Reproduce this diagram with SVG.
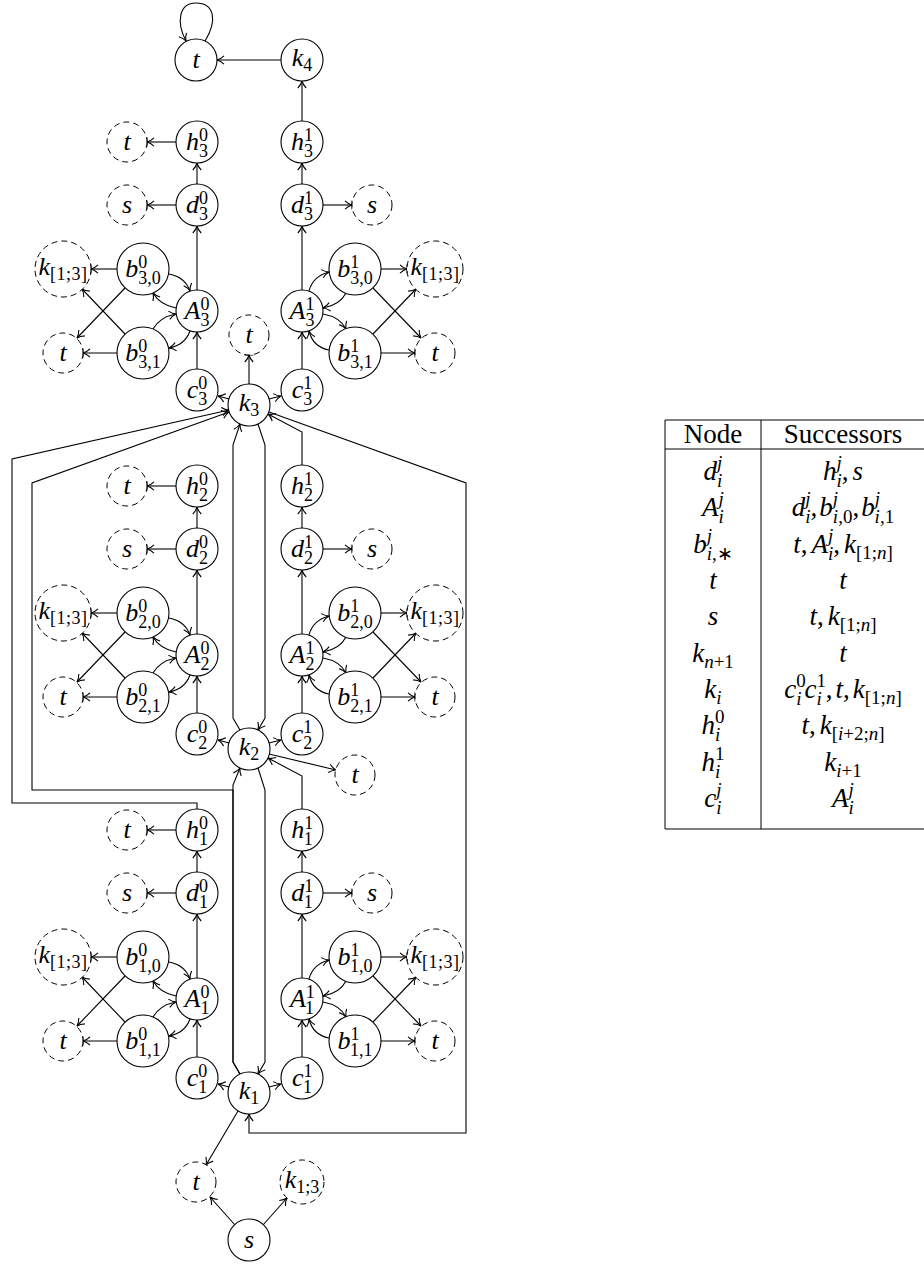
<svg xmlns="http://www.w3.org/2000/svg" width="924" height="1264" viewBox="0 0 924 1264">
<style>
.e{fill:none;stroke:#000;stroke-width:1.1;marker-end:url(#ar)}
.eb{fill:none;stroke:#000;stroke-width:1.1;marker-end:url(#arb)}
.n{fill:#fff;stroke:#000;stroke-width:1.1}
.dn{fill:#fff;stroke:#000;stroke-width:1;stroke-dasharray:6 4}
.lb{font-family:"Liberation Serif","Times New Roman",serif;font-size:26px;font-style:italic;text-anchor:middle;fill:#000}
.sc{font-size:18px;font-style:normal}
.kb{font-size:18px;font-style:normal;letter-spacing:0.5px}
.tl{stroke:#000;stroke-width:1;fill:none}
.tb{font-family:"Liberation Serif","Times New Roman",serif;font-size:27px;text-anchor:middle;fill:#000}
.ti{font-style:italic}
.u{font-style:normal}
.ts{font-size:19px}
</style>
<defs>
<marker id="ar" markerUnits="userSpaceOnUse" viewBox="-10 -6 12 12" markerWidth="12" markerHeight="12" refX="0" refY="0" orient="auto" overflow="visible"><path d="M-7,-4.2C-4.5,-1.8 -2,-0.5 0,0C-2,0.5 -4.5,1.8 -7,4.2" fill="none" stroke="#000" stroke-width="1.1"/></marker>
<marker id="arb" markerUnits="userSpaceOnUse" viewBox="-10 -6 12 12" markerWidth="12" markerHeight="12" refX="0" refY="0" orient="auto" overflow="visible"><path d="M-7,-4.2C-4.5,-1.8 -2,-0.5 0,0C-2,0.5 -4.5,1.8 -7,4.2M0,-4.5V4.5" fill="none" stroke="#000" stroke-width="1.1"/></marker>
</defs>

<g id="connectors">
<g id="edges-level3">
<path class="e" d="M197,369V332"/><path class="e" d="M197,290V226"/><path class="e" d="M197,184V163"/>
<path class="eb" d="M176,205H147"/><path class="eb" d="M176,142H147"/>
<path class="eb" d="M117,269H91"/><path class="eb" d="M117,353H83"/>
<path class="e" d="M125,288L77,338"/><path class="e" d="M125,334L82,289"/>
<path class="e" d="M169,274Q185,277 190,291"/><path class="e" d="M176,308Q160,305 153,293"/>
<path class="e" d="M153,329Q160,317 176,314"/><path class="e" d="M190,331Q185,345 169,348"/>
<path class="e" d="M302,369V332"/><path class="e" d="M302,290V226"/><path class="e" d="M302,184V163"/>
<path class="eb" d="M323,205H352"/>
<path class="eb" d="M381,269H407"/><path class="eb" d="M381,353H415"/>
<path class="e" d="M373,288L421,338"/><path class="e" d="M373,334L416,289"/>
<path class="e" d="M309,291Q313,276 329,272"/><path class="e" d="M346,293Q340,305 323,308"/>
<path class="e" d="M323,314Q340,317 346,329"/><path class="e" d="M329,350Q313,347 309,331"/>
<path class="e" d="M229,399L218,396"/><path class="e" d="M269,399L281,396"/>
</g>
<g id="edges-level2" transform="translate(0,344)">
<path class="e" d="M197,369V332"/><path class="e" d="M197,290V226"/><path class="e" d="M197,184V163"/>
<path class="eb" d="M176,205H147"/><path class="eb" d="M176,142H147"/>
<path class="eb" d="M117,269H91"/><path class="eb" d="M117,353H83"/>
<path class="e" d="M125,288L77,338"/><path class="e" d="M125,334L82,289"/>
<path class="e" d="M169,274Q185,277 190,291"/><path class="e" d="M176,308Q160,305 153,293"/>
<path class="e" d="M153,329Q160,317 176,314"/><path class="e" d="M190,331Q185,345 169,348"/>
<path class="e" d="M302,369V332"/><path class="e" d="M302,290V226"/><path class="e" d="M302,184V163"/>
<path class="eb" d="M323,205H352"/>
<path class="eb" d="M381,269H407"/><path class="eb" d="M381,353H415"/>
<path class="e" d="M373,288L421,338"/><path class="e" d="M373,334L416,289"/>
<path class="e" d="M309,291Q313,276 329,272"/><path class="e" d="M346,293Q340,305 323,308"/>
<path class="e" d="M323,314Q340,317 346,329"/><path class="e" d="M329,350Q313,347 309,331"/>
<path class="e" d="M229,399L218,396"/><path class="e" d="M269,399L281,396"/>
</g>
<g id="edges-level1" transform="translate(0,688)">
<path class="e" d="M197,369V332"/><path class="e" d="M197,290V226"/><path class="e" d="M197,184V163"/>
<path class="eb" d="M176,205H147"/><path class="eb" d="M176,142H147"/>
<path class="eb" d="M117,269H91"/><path class="eb" d="M117,353H83"/>
<path class="e" d="M125,288L77,338"/><path class="e" d="M125,334L82,289"/>
<path class="e" d="M169,274Q185,277 190,291"/><path class="e" d="M176,308Q160,305 153,293"/>
<path class="e" d="M153,329Q160,317 176,314"/><path class="e" d="M190,331Q185,345 169,348"/>
<path class="e" d="M302,369V332"/><path class="e" d="M302,290V226"/><path class="e" d="M302,184V163"/>
<path class="eb" d="M323,205H352"/>
<path class="eb" d="M381,269H407"/><path class="eb" d="M381,353H415"/>
<path class="e" d="M373,288L421,338"/><path class="e" d="M373,334L416,289"/>
<path class="e" d="M309,291Q313,276 329,272"/><path class="e" d="M346,293Q340,305 323,308"/>
<path class="e" d="M323,314Q340,317 346,329"/><path class="e" d="M329,350Q313,347 309,331"/>
<path class="e" d="M229,399L218,396"/><path class="e" d="M269,399L281,396"/>
</g>
<g id="edges-global">
<path class="e" d="M205,41C218,20 214,3 196,3C179,3 176,22 186,41"/>
<path class="e" d="M281,60H217"/>
<path class="e" d="M302,121V81"/>
<path class="eb" d="M249,384V355"/>
<path class="e" d="M302,465V432L268,414"/>
<path class="e" d="M269,754L336,770"/>
<path class="e" d="M302,809V776L268,758"/>
<path class="e" d="M197,809V803H12V459L229,410"/>
<path class="e" d="M238,1111L206,1165"/>
<path class="e" d="M240,730L233,718V445L240,424"/>
<path class="e" d="M258,424L265,445V718L258,730"/>
<path class="e" d="M240,1074L233,1062V785L240,768"/>
<path class="e" d="M240,1074L233,1062V790H32V483L229,412"/>
<path class="e" d="M258,768L265,790V1062L258,1074"/>
<path class="e" d="M269,412L466,483V1133H249V1114"/>
<path class="e" d="M235,1225L210,1197"/>
<path class="e" d="M263,1225L287,1198"/>
</g>
</g>

<g id="t-top"><circle class="n" cx="196" cy="60" r="21"/><text class="lb" x="196" y="68">t</text></g>
<g id="k4"><circle class="n" cx="302" cy="60" r="21"/><text class="lb" x="302" y="66">k<tspan class="sc" dy="5">4</tspan></text></g>

<g id="level3">
<g id="h30"><circle class="n" cx="197" cy="142" r="21"/><text class="lb" x="197" y="150">h<tspan class="sc" dy="-9">0</tspan><tspan class="sc" dx="-9" dy="16">3</tspan></text></g>
<g id="h31"><circle class="n" cx="302" cy="142" r="21"/><text class="lb" x="302" y="150">h<tspan class="sc" dy="-9">1</tspan><tspan class="sc" dx="-9" dy="16">3</tspan></text></g>
<g id="d30"><circle class="n" cx="197" cy="205" r="21"/><text class="lb" x="197" y="213">d<tspan class="sc" dy="-9">0</tspan><tspan class="sc" dx="-9" dy="16">3</tspan></text></g>
<g id="d31"><circle class="n" cx="302" cy="205" r="21"/><text class="lb" x="302" y="213">d<tspan class="sc" dy="-9">1</tspan><tspan class="sc" dx="-9" dy="16">3</tspan></text></g>
<g id="b300"><circle class="n" cx="143" cy="269" r="26"/><text class="lb" x="143" y="277">b<tspan class="sc" dy="-9">0</tspan><tspan class="sc" dx="-9" dy="16">3,0</tspan></text></g>
<g id="b301"><circle class="n" cx="143" cy="353" r="26"/><text class="lb" x="143" y="361">b<tspan class="sc" dy="-9">0</tspan><tspan class="sc" dx="-9" dy="16">3,1</tspan></text></g>
<g id="b310"><circle class="n" cx="355" cy="269" r="26"/><text class="lb" x="355" y="277">b<tspan class="sc" dy="-9">1</tspan><tspan class="sc" dx="-9" dy="16">3,0</tspan></text></g>
<g id="b311"><circle class="n" cx="355" cy="353" r="26"/><text class="lb" x="355" y="361">b<tspan class="sc" dy="-9">1</tspan><tspan class="sc" dx="-9" dy="16">3,1</tspan></text></g>
<g id="A30"><circle class="n" cx="197" cy="311" r="21"/><text class="lb" x="197" y="319">A<tspan class="sc" dy="-9">0</tspan><tspan class="sc" dx="-9" dy="16">3</tspan></text></g>
<g id="A31"><circle class="n" cx="302" cy="311" r="21"/><text class="lb" x="302" y="319">A<tspan class="sc" dy="-9">1</tspan><tspan class="sc" dx="-9" dy="16">3</tspan></text></g>
<g id="c30"><circle class="n" cx="197" cy="390" r="21"/><text class="lb" x="197" y="398">c<tspan class="sc" dy="-9">0</tspan><tspan class="sc" dx="-9" dy="16">3</tspan></text></g>
<g id="c31"><circle class="n" cx="302" cy="390" r="21"/><text class="lb" x="302" y="398">c<tspan class="sc" dy="-9">1</tspan><tspan class="sc" dx="-9" dy="16">3</tspan></text></g>
<g id="k3"><circle class="n" cx="249" cy="405" r="21"/><text class="lb" x="249" y="411">k<tspan class="sc" dy="5">3</tspan></text></g>
<g id="t-h30"><circle class="dn" cx="127" cy="142" r="20"/><text class="lb" x="127" y="150">t</text></g>
<g id="s-d30"><circle class="dn" cx="127" cy="205" r="20"/><text class="lb" x="127" y="213">s</text></g>
<g id="s-d31"><circle class="dn" cx="372" cy="205" r="20"/><text class="lb" x="372" y="213">s</text></g>
<g id="k-b30"><circle class="dn" cx="63" cy="269" r="28"/><text class="lb" x="63" y="275">k<tspan class="kb" dy="5">[1;3]</tspan></text></g>
<g id="t-b30"><circle class="dn" cx="63" cy="353" r="20"/><text class="lb" x="63" y="361">t</text></g>
<g id="k-b31"><circle class="dn" cx="435" cy="269" r="28"/><text class="lb" x="435" y="275">k<tspan class="kb" dy="5">[1;3]</tspan></text></g>
<g id="t-b31"><circle class="dn" cx="435" cy="353" r="20"/><text class="lb" x="435" y="361">t</text></g>
</g>

<g id="level2" transform="translate(0,344)">
<g id="h20"><circle class="n" cx="197" cy="142" r="21"/><text class="lb" x="197" y="150">h<tspan class="sc" dy="-9">0</tspan><tspan class="sc" dx="-9" dy="16">2</tspan></text></g>
<g id="h21"><circle class="n" cx="302" cy="142" r="21"/><text class="lb" x="302" y="150">h<tspan class="sc" dy="-9">1</tspan><tspan class="sc" dx="-9" dy="16">2</tspan></text></g>
<g id="d20"><circle class="n" cx="197" cy="205" r="21"/><text class="lb" x="197" y="213">d<tspan class="sc" dy="-9">0</tspan><tspan class="sc" dx="-9" dy="16">2</tspan></text></g>
<g id="d21"><circle class="n" cx="302" cy="205" r="21"/><text class="lb" x="302" y="213">d<tspan class="sc" dy="-9">1</tspan><tspan class="sc" dx="-9" dy="16">2</tspan></text></g>
<g id="b200"><circle class="n" cx="143" cy="269" r="26"/><text class="lb" x="143" y="277">b<tspan class="sc" dy="-9">0</tspan><tspan class="sc" dx="-9" dy="16">2,0</tspan></text></g>
<g id="b201"><circle class="n" cx="143" cy="353" r="26"/><text class="lb" x="143" y="361">b<tspan class="sc" dy="-9">0</tspan><tspan class="sc" dx="-9" dy="16">2,1</tspan></text></g>
<g id="b210"><circle class="n" cx="355" cy="269" r="26"/><text class="lb" x="355" y="277">b<tspan class="sc" dy="-9">1</tspan><tspan class="sc" dx="-9" dy="16">2,0</tspan></text></g>
<g id="b211"><circle class="n" cx="355" cy="353" r="26"/><text class="lb" x="355" y="361">b<tspan class="sc" dy="-9">1</tspan><tspan class="sc" dx="-9" dy="16">2,1</tspan></text></g>
<g id="A20"><circle class="n" cx="197" cy="311" r="21"/><text class="lb" x="197" y="319">A<tspan class="sc" dy="-9">0</tspan><tspan class="sc" dx="-9" dy="16">2</tspan></text></g>
<g id="A21"><circle class="n" cx="302" cy="311" r="21"/><text class="lb" x="302" y="319">A<tspan class="sc" dy="-9">1</tspan><tspan class="sc" dx="-9" dy="16">2</tspan></text></g>
<g id="c20"><circle class="n" cx="197" cy="390" r="21"/><text class="lb" x="197" y="398">c<tspan class="sc" dy="-9">0</tspan><tspan class="sc" dx="-9" dy="16">2</tspan></text></g>
<g id="c21"><circle class="n" cx="302" cy="390" r="21"/><text class="lb" x="302" y="398">c<tspan class="sc" dy="-9">1</tspan><tspan class="sc" dx="-9" dy="16">2</tspan></text></g>
<g id="k2"><circle class="n" cx="249" cy="405" r="21"/><text class="lb" x="249" y="411">k<tspan class="sc" dy="5">2</tspan></text></g>
<g id="t-h20"><circle class="dn" cx="127" cy="142" r="20"/><text class="lb" x="127" y="150">t</text></g>
<g id="s-d20"><circle class="dn" cx="127" cy="205" r="20"/><text class="lb" x="127" y="213">s</text></g>
<g id="s-d21"><circle class="dn" cx="372" cy="205" r="20"/><text class="lb" x="372" y="213">s</text></g>
<g id="k-b20"><circle class="dn" cx="63" cy="269" r="28"/><text class="lb" x="63" y="275">k<tspan class="kb" dy="5">[1;3]</tspan></text></g>
<g id="t-b20"><circle class="dn" cx="63" cy="353" r="20"/><text class="lb" x="63" y="361">t</text></g>
<g id="k-b21"><circle class="dn" cx="435" cy="269" r="28"/><text class="lb" x="435" y="275">k<tspan class="kb" dy="5">[1;3]</tspan></text></g>
<g id="t-b21"><circle class="dn" cx="435" cy="353" r="20"/><text class="lb" x="435" y="361">t</text></g>
</g>

<g id="level1" transform="translate(0,688)">
<g id="h10"><circle class="n" cx="197" cy="142" r="21"/><text class="lb" x="197" y="150">h<tspan class="sc" dy="-9">0</tspan><tspan class="sc" dx="-9" dy="16">1</tspan></text></g>
<g id="h11"><circle class="n" cx="302" cy="142" r="21"/><text class="lb" x="302" y="150">h<tspan class="sc" dy="-9">1</tspan><tspan class="sc" dx="-9" dy="16">1</tspan></text></g>
<g id="d10"><circle class="n" cx="197" cy="205" r="21"/><text class="lb" x="197" y="213">d<tspan class="sc" dy="-9">0</tspan><tspan class="sc" dx="-9" dy="16">1</tspan></text></g>
<g id="d11"><circle class="n" cx="302" cy="205" r="21"/><text class="lb" x="302" y="213">d<tspan class="sc" dy="-9">1</tspan><tspan class="sc" dx="-9" dy="16">1</tspan></text></g>
<g id="b100"><circle class="n" cx="143" cy="269" r="26"/><text class="lb" x="143" y="277">b<tspan class="sc" dy="-9">0</tspan><tspan class="sc" dx="-9" dy="16">1,0</tspan></text></g>
<g id="b101"><circle class="n" cx="143" cy="353" r="26"/><text class="lb" x="143" y="361">b<tspan class="sc" dy="-9">0</tspan><tspan class="sc" dx="-9" dy="16">1,1</tspan></text></g>
<g id="b110"><circle class="n" cx="355" cy="269" r="26"/><text class="lb" x="355" y="277">b<tspan class="sc" dy="-9">1</tspan><tspan class="sc" dx="-9" dy="16">1,0</tspan></text></g>
<g id="b111"><circle class="n" cx="355" cy="353" r="26"/><text class="lb" x="355" y="361">b<tspan class="sc" dy="-9">1</tspan><tspan class="sc" dx="-9" dy="16">1,1</tspan></text></g>
<g id="A10"><circle class="n" cx="197" cy="311" r="21"/><text class="lb" x="197" y="319">A<tspan class="sc" dy="-9">0</tspan><tspan class="sc" dx="-9" dy="16">1</tspan></text></g>
<g id="A11"><circle class="n" cx="302" cy="311" r="21"/><text class="lb" x="302" y="319">A<tspan class="sc" dy="-9">1</tspan><tspan class="sc" dx="-9" dy="16">1</tspan></text></g>
<g id="c10"><circle class="n" cx="197" cy="390" r="21"/><text class="lb" x="197" y="398">c<tspan class="sc" dy="-9">0</tspan><tspan class="sc" dx="-9" dy="16">1</tspan></text></g>
<g id="c11"><circle class="n" cx="302" cy="390" r="21"/><text class="lb" x="302" y="398">c<tspan class="sc" dy="-9">1</tspan><tspan class="sc" dx="-9" dy="16">1</tspan></text></g>
<g id="k1"><circle class="n" cx="249" cy="405" r="21"/><text class="lb" x="249" y="411">k<tspan class="sc" dy="5">1</tspan></text></g>
<g id="t-h10"><circle class="dn" cx="127" cy="142" r="20"/><text class="lb" x="127" y="150">t</text></g>
<g id="s-d10"><circle class="dn" cx="127" cy="205" r="20"/><text class="lb" x="127" y="213">s</text></g>
<g id="s-d11"><circle class="dn" cx="372" cy="205" r="20"/><text class="lb" x="372" y="213">s</text></g>
<g id="k-b10"><circle class="dn" cx="63" cy="269" r="28"/><text class="lb" x="63" y="275">k<tspan class="kb" dy="5">[1;3]</tspan></text></g>
<g id="t-b10"><circle class="dn" cx="63" cy="353" r="20"/><text class="lb" x="63" y="361">t</text></g>
<g id="k-b11"><circle class="dn" cx="435" cy="269" r="28"/><text class="lb" x="435" y="275">k<tspan class="kb" dy="5">[1;3]</tspan></text></g>
<g id="t-b11"><circle class="dn" cx="435" cy="353" r="20"/><text class="lb" x="435" y="361">t</text></g>
</g>

<g id="t-k3"><circle class="dn" cx="249" cy="335" r="20"/><text class="lb" x="249" y="343">t</text></g>
<g id="t-k2"><circle class="dn" cx="355" cy="775" r="20"/><text class="lb" x="355" y="783">t</text></g>
<g id="t-k1"><circle class="dn" cx="196" cy="1182" r="20"/><text class="lb" x="196" y="1190">t</text></g>
<g id="k13"><circle class="dn" cx="302" cy="1182" r="22"/><text class="lb" x="302" y="1188">k<tspan class="sc" dy="5">1;3</tspan></text></g>
<g id="s"><circle class="n" cx="249" cy="1240" r="21"/><text class="lb" x="249" y="1248">s</text></g>

<g id="table">
<path class="tl" d="M665,420H924M665,449H924M665,829H924M665,420V829M761,420V829"/>
<text class="tb" x="713" y="443">Node</text>
<text class="tb" x="843" y="443">Successors</text>
<text class="tb ti" x="713" y="480">d<tspan class="ts" dy="-11">j</tspan><tspan class="ts" dx="-5.3" dy="18">i</tspan></text>
<text class="tb ti" x="843" y="480">h<tspan class="ts" dy="-11">j</tspan><tspan class="ts" dx="-5.3" dy="18">i</tspan><tspan class="u" dy="-7">,</tspan><tspan dx="4">s</tspan></text>
<text class="tb ti" x="713" y="516">A<tspan class="ts" dy="-11">j</tspan><tspan class="ts" dx="-5.3" dy="18">i</tspan></text>
<text class="tb ti" x="843" y="516">d<tspan class="ts" dy="-11">j</tspan><tspan class="ts" dx="-5.3" dy="18">i</tspan><tspan class="u" dy="-7">,</tspan><tspan dx="2">b</tspan><tspan class="ts" dy="-11">j</tspan><tspan class="ts" dx="-5.3" dy="18">i<tspan class="u">,0</tspan></tspan><tspan class="u" dy="-7">,</tspan><tspan dx="2">b</tspan><tspan class="ts" dy="-11">j</tspan><tspan class="ts" dx="-5.3" dy="18">i<tspan class="u">,1</tspan></tspan></text>
<text class="tb ti" x="713" y="553">b<tspan class="ts" dy="-11">j</tspan><tspan class="ts" dx="-5.3" dy="18">i<tspan class="u">,∗</tspan></tspan></text>
<text class="tb ti" x="843" y="553">t<tspan class="u">,</tspan><tspan dx="4">A</tspan><tspan class="ts" dy="-11">j</tspan><tspan class="ts" dx="-5.3" dy="18">i</tspan><tspan class="u" dy="-7">,</tspan><tspan dx="4">k</tspan><tspan class="ts u" dy="6">[1;<tspan class="ti">n</tspan>]</tspan></text>
<text class="tb ti" x="713" y="589">t</text>
<text class="tb ti" x="843" y="589">t</text>
<text class="tb ti" x="713" y="625">s</text>
<text class="tb ti" x="843" y="625">t<tspan class="u">,</tspan><tspan dx="4">k</tspan><tspan class="ts u" dy="6">[1;<tspan class="ti">n</tspan>]</tspan></text>
<text class="tb ti" x="713" y="662">k<tspan class="ts" dy="6">n<tspan class="u">+1</tspan></tspan></text>
<text class="tb ti" x="843" y="662">t</text>
<text class="tb ti" x="713" y="698">k<tspan class="ts" dy="6">i</tspan></text>
<text class="tb ti" x="843" y="698">c<tspan class="ts u" dy="-11">0</tspan><tspan class="ts" dx="-9.5" dy="18">i</tspan><tspan dx="3" dy="-7">c</tspan><tspan class="ts u" dy="-11">1</tspan><tspan class="ts" dx="-9.5" dy="18">i</tspan><tspan class="u" dx="4" dy="-7">,</tspan><tspan dx="3">t</tspan><tspan class="u">,</tspan><tspan dx="3">k</tspan><tspan class="ts u" dy="6">[1;<tspan class="ti">n</tspan>]</tspan></text>
<text class="tb ti" x="713" y="734">h<tspan class="ts u" dy="-11">0</tspan><tspan class="ts" dx="-9.5" dy="18">i</tspan></text>
<text class="tb ti" x="843" y="734">t<tspan class="u">,</tspan><tspan dx="4">k</tspan><tspan class="ts u" dy="6">[<tspan class="ti">i</tspan>+2;<tspan class="ti">n</tspan>]</tspan></text>
<text class="tb ti" x="713" y="771">h<tspan class="ts u" dy="-11">1</tspan><tspan class="ts" dx="-9.5" dy="18">i</tspan></text>
<text class="tb ti" x="843" y="771">k<tspan class="ts" dy="6">i<tspan class="u">+1</tspan></tspan></text>
<text class="tb ti" x="713" y="807">c<tspan class="ts" dy="-11">j</tspan><tspan class="ts" dx="-5.3" dy="18">i</tspan></text>
<text class="tb ti" x="843" y="807">A<tspan class="ts" dy="-11">j</tspan><tspan class="ts" dx="-5.3" dy="18">i</tspan></text>
</g>
</svg>
